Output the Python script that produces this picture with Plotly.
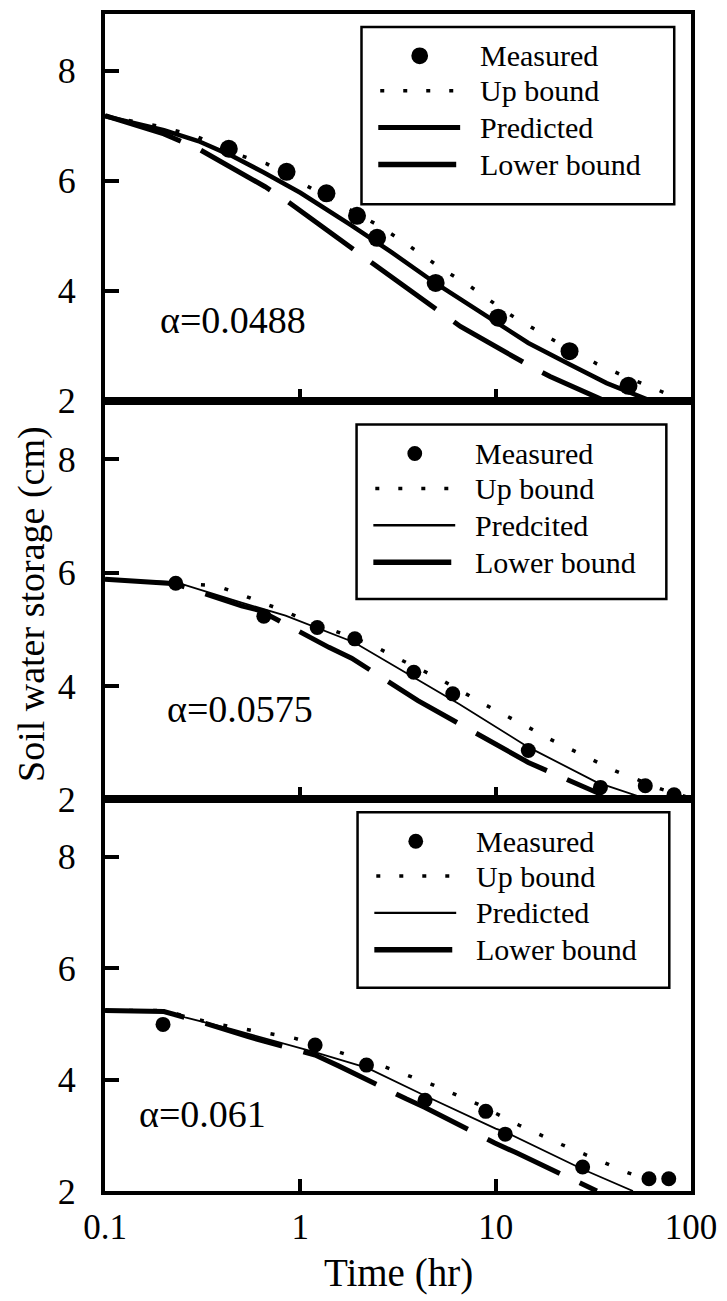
import plotly.graph_objects as go
from plotly.subplots import make_subplots

# ---------------- data: soil water storage (cm) vs time (hr) ----------------
alpha_labels = ["α=0.0488", "α=0.0575", "α=0.061"]
legend_names = [
    ["Measured", "Up bound", "Predicted", "Lower bound"],
    ["Measured", "Up bound", "Predcited", "Lower bound"],
    ["Measured", "Up bound", "Predicted", "Lower bound"],
]
x_tick_vals = [0.1, 1, 10, 100]
x_tick_text = ["0.1", "1", "10", "100"]
y_tick_vals = [2, 4, 6, 8]

# panel 1 (alpha = 0.0488)
measured_t1 = [0.43, 0.85, 1.36, 1.95, 2.47, 4.93, 10.3, 23.9, 47.9]
measured_w1 = [6.58, 6.16, 5.77, 5.36, 4.96, 4.14, 3.51, 2.90, 2.27]
predicted_t1 = [0.1, 0.2, 0.3, 0.44, 0.65, 1.0, 1.8, 2.9, 4.9, 10.3, 14.7, 24, 37, 60, 75]
predicted_w1 = [7.17, 6.92, 6.72, 6.46, 6.15, 5.78, 5.20, 4.71, 4.14, 3.41, 3.05, 2.66, 2.32, 2.02, 1.84]
upper_t1 = [0.1, 0.2, 0.3, 0.49, 0.67, 1.12, 2.47, 3.27, 4.25, 5.5, 7.2, 9.3, 11.9, 15.5, 20.3, 33, 43.4, 72.6, 100]
upper_w1 = [7.18, 6.97, 6.79, 6.46, 6.31, 5.88, 5.20, 4.92, 4.64, 4.36, 4.11, 3.83, 3.56, 3.32, 3.08, 2.67, 2.48, 2.15, 1.97]
lower_t1 = [0.1, 0.2, 0.3, 0.66, 0.84, 1.9, 2.4, 5.3, 6.6, 15, 19, 35, 45]
lower_w1 = [7.18, 6.85, 6.58, 5.89, 5.65, 4.75, 4.47, 3.59, 3.35, 2.63, 2.44, 2.02, 1.84]

# panel 2 (alpha = 0.0575)
measured_t2 = [0.23, 0.65, 1.22, 1.9, 3.81, 6.03, 14.7, 34.4, 58.4, 82]
measured_w2 = [5.81, 5.23, 5.03, 4.83, 4.24, 3.86, 2.86, 2.21, 2.24, 2.08]
predicted_t2 = [0.1, 0.15, 0.23, 0.5, 0.84, 1.88, 3.8, 6.5, 14.7, 33, 60]
predicted_w2 = [5.88, 5.86, 5.83, 5.47, 5.24, 4.77, 4.16, 3.68, 2.92, 2.30, 2.0]
upper_t2 = [0.1, 0.29, 0.37, 0.49, 0.63, 0.8, 1.03, 2.34, 3.1, 5.2, 8.7, 11.5, 14.7, 19, 24.8, 31.8, 41, 70.6, 100]
upper_w2 = [5.88, 5.80, 5.77, 5.62, 5.48, 5.34, 5.18, 4.72, 4.5, 4.12, 3.68, 3.47, 3.27, 3.06, 2.87, 2.68, 2.50, 2.18, 2.02]
lower_t2 = [0.1, 0.23, 0.5, 0.62, 1.4, 1.83, 4.0, 5.3, 11.5, 14.7, 33, 36]
lower_w2 = [5.88, 5.80, 5.41, 5.33, 4.68, 4.49, 3.74, 3.5, 2.86, 2.65, 2.12, 2.0]

# panel 3 (alpha = 0.061)
measured_t3 = [0.198, 1.19, 2.18, 4.35, 8.9, 11.2, 27.9, 61, 77]
measured_w3 = [4.99, 4.62, 4.26, 3.63, 3.43, 3.02, 2.43, 2.22, 2.22]
predicted_t3 = [0.1, 0.2, 0.26, 0.44, 1.16, 2.2, 4.35, 10, 11.2, 27.9, 50.5]
predicted_w3 = [5.24, 5.24, 5.11, 4.91, 4.50, 4.21, 3.71, 3.12, 3.06, 2.39, 2.0]
upper_t3 = [0.1, 0.2, 0.345, 0.56, 0.94, 1.56, 2.7, 4.66, 8.1, 13.2, 21.9, 36, 46.6, 80]
upper_w3 = [5.24, 5.24, 5.02, 4.88, 4.74, 4.50, 4.23, 3.92, 3.56, 3.18, 2.83, 2.51, 2.34, 2.05]
lower_t3 = [0.1, 0.2, 0.3, 0.54, 1.19, 1.56, 3.5, 4.35, 9.9, 12.7, 33]
lower_w3 = [5.24, 5.22, 5.05, 4.77, 4.44, 4.25, 3.65, 3.5, 2.86, 2.69, 2.0]

panels = [
    (measured_t1, measured_w1, predicted_t1, predicted_w1, upper_t1, upper_w1, lower_t1, lower_w1),
    (measured_t2, measured_w2, predicted_t2, predicted_w2, upper_t2, upper_w2, lower_t2, lower_w2),
    (measured_t3, measured_w3, predicted_t3, predicted_w3, upper_t3, upper_w3, lower_t3, lower_w3),
]

# ---------------- styling ----------------
SERIF = "Liberation Serif, Times New Roman, serif"
W, H = 727, 1301
PL, PR, PT, PB = 105, 699, 10, 1191          # plot-area edges in pixels
row_px = [388, 400, 393]                     # panel heights in pixels
pred_width = [4.5, 1.8, 1.8]
marker_size = [18, 15, 15]
key_marker = [17, 15, 15]
key_boxes = [(365, 23, 682, 201), (360, 422, 674, 597), (361, 811, 677, 987)]
key_rows = [29, 64, 101, 138]
alpha_pos = [(-0.727, 3.47), (-0.692, 3.60), (-0.836, 3.38)]


def fx(px):
    return (px - PL) / (PR - PL)


def fy(py):
    return (PB - py) / (PB - PT)


fig = make_subplots(rows=3, cols=1, shared_xaxes=True, vertical_spacing=0,
                    row_heights=row_px)

for i, (mt, mw, pt, pw, ut, uw, lt, lw) in enumerate(panels):
    row = i + 1
    names = legend_names[i]
    fig.add_trace(go.Scatter(x=ut, y=uw, mode="lines", name=names[1],
                             line=dict(color="black", width=3.5, dash="4px,20px"),
                             showlegend=False), row=row, col=1)
    fig.add_trace(go.Scatter(x=pt, y=pw, mode="lines", name=names[2],
                             line=dict(color="black", width=pred_width[i]),
                             showlegend=False), row=row, col=1)
    fig.add_trace(go.Scatter(x=lt, y=lw, mode="lines", name=names[3],
                             line=dict(color="black", width=5, dash="80px,22px"),
                             showlegend=False), row=row, col=1)
    fig.add_trace(go.Scatter(x=mt, y=mw, mode="markers", name=names[0],
                             marker=dict(color="black", size=marker_size[i], symbol="circle",
                                         line=dict(width=0)),
                             showlegend=False), row=row, col=1)

fig.update_xaxes(type="log", range=[-1.0005, 2.0005], tickvals=x_tick_vals, ticktext=x_tick_text,
                 ticks="inside", ticklen=12, tickwidth=3.5, tickcolor="black",
                 showline=True, linewidth=4, linecolor="black", mirror=True,
                 showgrid=False, zeroline=False, ticklabelstandoff=2,
                 tickfont=dict(family=SERIF, size=35, color="black"))
fig.update_yaxes(range=[2, 9.03], tickvals=y_tick_vals,
                 ticks="inside", ticklen=14, tickwidth=4, tickcolor="black",
                 showline=True, linewidth=4, linecolor="black", mirror=True,
                 showgrid=False, zeroline=False, ticklabelstandoff=18,
                 tickfont=dict(family=SERIF, size=36, color="black"))

shapes = []
annotations = []

# per-panel key boxes drawn as layout decoration
for i, (bx0, by0, bx1, by1) in enumerate(key_boxes):
    shapes.append(dict(type="rect", xref="paper", yref="paper",
                       x0=fx(bx0), x1=fx(bx1), y0=fy(by1), y1=fy(by0),
                       line=dict(color="black", width=2.5), fillcolor="white", layer="above"))
    rows_y = [by0 + k for k in key_rows]
    r = key_marker[i] / 2
    shapes.append(dict(type="circle", xref="paper", yref="paper",
                       x0=fx(bx0 + 59 - r), x1=fx(bx0 + 59 + r),
                       y0=fy(rows_y[0] + r), y1=fy(rows_y[0] - r),
                       line=dict(color="black", width=0), fillcolor="black", layer="above"))
    shapes.append(dict(type="line", xref="paper", yref="paper",
                       x0=fx(bx0 + 19), x1=fx(bx0 + 95), y0=fy(rows_y[1]), y1=fy(rows_y[1]),
                       line=dict(color="black", width=3.5, dash="4px,19px"), layer="above"))
    shapes.append(dict(type="line", xref="paper", yref="paper",
                       x0=fx(bx0 + 17), x1=fx(bx0 + 100), y0=fy(rows_y[2]), y1=fy(rows_y[2]),
                       line=dict(color="black", width=pred_width[i] + 0.5), layer="above"))
    shapes.append(dict(type="line", xref="paper", yref="paper",
                       x0=fx(bx0 + 17), x1=fx(bx0 + 96), y0=fy(rows_y[3]), y1=fy(rows_y[3]),
                       line=dict(color="black", width=5.5), layer="above"))
    for name, ry in zip(legend_names[i], rows_y):
        annotations.append(dict(text=name, xref="paper", yref="paper",
                                x=fx(bx0 + 118), y=fy(ry), xanchor="left", yanchor="middle",
                                showarrow=False,
                                font=dict(family=SERIF, size=30, color="black")))

# alpha labels inside each panel
for i, (ax_x, ax_y) in enumerate(alpha_pos):
    suffix = "" if i == 0 else str(i + 1)
    annotations.append(dict(text=alpha_labels[i], xref="x" + suffix, yref="y" + suffix,
                            x=ax_x, y=ax_y, xanchor="left", yanchor="middle", showarrow=False,
                            font=dict(family=SERIF, size=38, color="black")))

# axis titles
annotations.append(dict(text="Time (hr)", xref="paper", yref="paper",
                        x=fx(402), y=fy(1273), xanchor="center", yanchor="middle",
                        showarrow=False, font=dict(family=SERIF, size=39, color="black")))
annotations.append(dict(text="Soil water storage (cm)", xref="paper", yref="paper",
                        x=fx(31), y=fy(602), xanchor="center", yanchor="middle",
                        textangle=-90, showarrow=False,
                        font=dict(family=SERIF, size=38, color="black")))

fig.update_layout(width=W, height=H,
                  margin=dict(l=PL, r=W - PR, t=PT, b=H - PB),
                  paper_bgcolor="white", plot_bgcolor="white",
                  showlegend=False, shapes=shapes, annotations=annotations)

fig.write_html("out.html")
